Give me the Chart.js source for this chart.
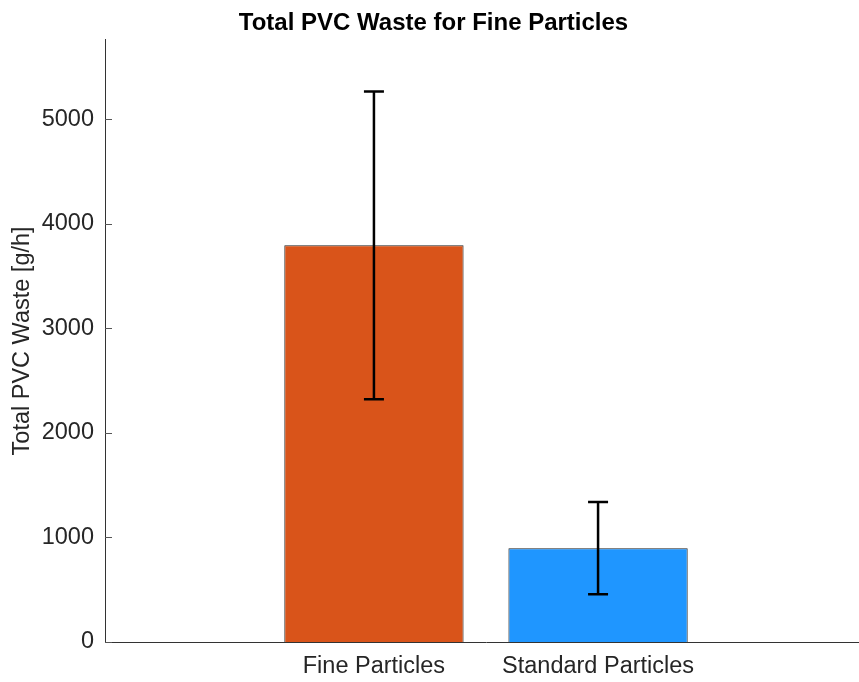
<!DOCTYPE html>
<html>
<head>
<meta charset="utf-8">
<script src="https://cdn.jsdelivr.net/npm/chart.js@4.4.1/dist/chart.umd.min.js"></script>
<style>
  html, body { margin: 0; padding: 0; background: #fff; overflow: hidden; width: 859px; height: 682px; }
  #wrap { position: absolute; left: 0; top: 0; width: 880px; height: 682px; }
  canvas { display: block; }
</style>
</head>
<body>
<div id="wrap"><canvas id="c" width="880" height="682"></canvas></div>
<script>
// ---- data ----
const categories = ['Fine Particles', 'Standard Particles'];
const positions = [1, 2];
const meanWaste = [3794, 897];
const errWaste = [1471, 441];
const barColors = ['#D9541A', '#1F96FF'];
const yTicks = [0, 1000, 2000, 3000, 4000, 5000];

const FONT = '"Liberation Sans", Arial, Helvetica, sans-serif';
const TEXT = '#262626';

const errorBars = {
  id: 'errorBars',
  afterDatasetsDraw(chart) {
    const ctx = chart.ctx;
    const xs = chart.scales.x, ys = chart.scales.y;
    ctx.save();
    ctx.strokeStyle = '#000';
    ctx.lineWidth = 2.5;
    positions.forEach((p, i) => {
      const x = xs.getPixelForValue(p);
      const yt = ys.getPixelForValue(meanWaste[i] + errWaste[i]);
      const yb = ys.getPixelForValue(meanWaste[i] - errWaste[i]);
      ctx.beginPath();
      ctx.moveTo(x, yt); ctx.lineTo(x, yb);
      ctx.moveTo(x - 10, yt); ctx.lineTo(x + 10, yt);
      ctx.moveTo(x - 10, yb); ctx.lineTo(x + 10, yb);
      ctx.stroke();
    });
    ctx.restore();
  }
};

const innerTicks = {
  id: 'innerTicks',
  afterDraw(chart) {
    const ctx = chart.ctx;
    const ys = chart.scales.y;
    const left = chart.chartArea.left;
    ctx.save();
    ctx.strokeStyle = '#555';
    ctx.lineWidth = 1;
    yTicks.forEach(v => {
      const y = Math.round(ys.getPixelForValue(v)) + 0.5;
      ctx.beginPath();
      ctx.moveTo(left, y); ctx.lineTo(left + 7, y);
      ctx.stroke();
    });
    ctx.restore();
  }
};

new Chart(document.getElementById('c'), {
  type: 'bar',
  data: {
    datasets: [{
      data: positions.map((p, i) => ({ x: p, y: meanWaste[i] })),
      backgroundColor: barColors,
      borderColor: '#222',
      borderWidth: 1,
      barPercentage: 0.8,
      categoryPercentage: 1.0
    }]
  },
  options: {
    responsive: false,
    animation: false,
    layout: { padding: { left: 0, right: 13, top: 0, bottom: 0 } },
    plugins: {
      legend: { display: false },
      tooltip: { enabled: false },
      title: {
        display: true,
        text: 'Total PVC Waste for Fine Particles',
        color: '#000',
        font: { family: FONT, size: 24, weight: 'bold' },
        padding: { top: 9, bottom: 2 }
      }
    },
    scales: {
      x: {
        type: 'linear',
        offset: false,
        min: -0.2,
        max: 3.2,
        afterBuildTicks(scale) { scale.ticks = positions.map(v => ({ value: v })); },
        afterFit(scale) { scale.height = 40; },
        ticks: {
          color: TEXT,
          font: { family: FONT, size: 23.5 },
          padding: 10,
          maxRotation: 0,
          autoSkip: false,
          callback(v) { const i = positions.indexOf(v); return i >= 0 ? categories[i] : ''; }
        },
        grid: { display: false, drawTicks: false, offset: false },
        border: { display: true, color: '#333', width: 1 }
      },
      y: {
        min: 0,
        max: 5760,
        afterBuildTicks(scale) { scale.ticks = yTicks.map(v => ({ value: v })); },
        afterFit(scale) { scale.width = 105; },
        ticks: {
          color: TEXT,
          font: { family: FONT, size: 23.5 },
          padding: 11,
          includeBounds: false,
          callback(v) { return String(v); }
        },
        grid: { display: false, drawTicks: false },
        border: { display: true, color: '#333', width: 1 },
        title: {
          display: true,
          text: 'Total PVC Waste [g/h]',
          color: TEXT,
          font: { family: FONT, size: 23.5 },
          padding: { top: 8, bottom: 0 }
        }
      }
    }
  },
  plugins: [errorBars, innerTicks]
});
</script>
</body>
</html>
